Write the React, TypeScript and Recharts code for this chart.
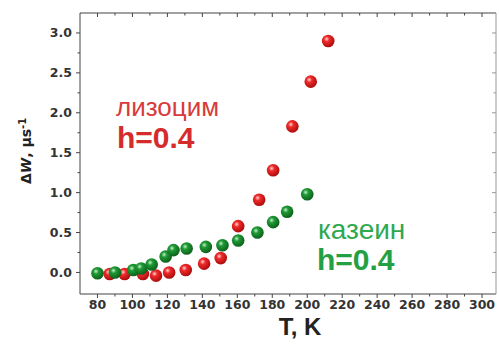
import { ScatterChart, Scatter, XAxis, YAxis } from 'recharts';

// лизоцим (red)
const lysT = [87, 95.5, 106, 113.5, 121, 130.5, 141, 150.5, 160.5, 172.5, 180.5, 191.5, 202, 212];
const lysW = [-0.02, -0.02, -0.02, -0.04, 0.0, 0.03, 0.11, 0.18, 0.58, 0.91, 1.28, 1.83, 2.39, 2.9];
// казеин (green)
const casT = [80, 90, 100.5, 105, 111, 119, 123.5, 131, 142, 151.5, 160.5, 171.5, 180.5, 188.5, 200];
const casW = [-0.01, 0.0, 0.03, 0.05, 0.1, 0.2, 0.28, 0.3, 0.32, 0.34, 0.4, 0.5, 0.63, 0.76, 0.98];

const xTicks = [80, 90, 100, 110, 120, 130, 140, 150, 160, 170, 180, 190, 200, 210, 220, 230, 240, 250, 260, 270, 280, 290, 300];
const yTicks = [0, 0.25, 0.5, 0.75, 1, 1.25, 1.5, 1.75, 2, 2.25, 2.5, 2.75, 3];

const lysData = lysT.map((t, i) => ({ t, w: lysW[i] }));
const casData = casT.map((t, i) => ({ t, w: casW[i] }));

const AXIS = '#444';
const tickFont = { fontFamily: 'DejaVu Sans', fontWeight: 700, fontSize: 12.5, fill: '#333' };

// eslint-disable-next-line @typescript-eslint/no-explicit-any
const XTick = ({ x, y, payload, top }: any) => {
    const major = payload.value % 20 === 0;
    const len = major ? 4 : 2.5;
    return (
        <g>
            <line x1={x} x2={x} y1={y} y2={y + len} stroke={AXIS} strokeWidth={1} />
            {!top && major && (
                <text x={x} y={y + 15} textAnchor="middle" {...tickFont}>
                    {payload.value}
                </text>
            )}
        </g>
    );
};

// eslint-disable-next-line @typescript-eslint/no-explicit-any
const YTick = ({ x, y, payload, right }: any) => {
    const major = Math.abs((payload.value * 2) % 1) < 1e-6;
    const len = major ? 4 : 2.5;
    return (
        <g>
            <line x1={x - len} x2={x} y1={y} y2={y} stroke={right ? '#999' : AXIS} strokeWidth={1} />
            {!right && major && (
                <text x={x - 8} y={y + 4.5} textAnchor="end" {...tickFont}>
                    {payload.value.toFixed(1)}
                </text>
            )}
        </g>
    );
};

// eslint-disable-next-line @typescript-eslint/no-explicit-any
const Ball = (grad: string) => ({ cx, cy }: any) => (
    <circle cx={cx} cy={cy} r={6.3} fill={`url(#${grad})`} />
);

const Hidden = () => null;

export default function App() {
    return (
        <div style={{ position: 'absolute', left: 0, top: 0, width: 499, height: 344, background: '#fff' }}>
            <ScatterChart width={499} height={344} margin={{ top: 12, right: 2, bottom: 0, left: 0 }}>
                <defs>
                    <radialGradient id="gRed" cx="38%" cy="35%" r="70%">
                        <stop offset="0%" stopColor="#ffd6d6" />
                        <stop offset="30%" stopColor="#f02a2a" />
                        <stop offset="100%" stopColor="#a40a0a" />
                    </radialGradient>
                    <radialGradient id="gGreen" cx="38%" cy="35%" r="70%">
                        <stop offset="0%" stopColor="#c8f0d0" />
                        <stop offset="30%" stopColor="#1f9a35" />
                        <stop offset="100%" stopColor="#0b5c18" />
                    </radialGradient>
                </defs>
                <XAxis
                    dataKey="t"
                    type="number"
                    domain={[70, 308]}
                    ticks={xTicks}
                    interval={0}
                    height={50}
                    tickSize={0}
                    tickMargin={0}
                    axisLine={{ stroke: AXIS }}
                    tickLine={false}
                    tick={(p: any) => <XTick {...p} />}
                    allowDataOverflow
                />
                <XAxis
                    xAxisId="top"
                    orientation="top"
                    dataKey="t"
                    type="number"
                    domain={[70, 308]}
                    ticks={xTicks}
                    interval={0}
                    height={1}
                    tickSize={0}
                    tickMargin={0}
                    axisLine={{ stroke: AXIS }}
                    tickLine={false}
                    tick={(p: any) => <XTick {...p} top />}
                    allowDataOverflow
                />
                <YAxis
                    dataKey="w"
                    type="number"
                    domain={[-0.27, 3.25]}
                    ticks={yTicks}
                    interval={0}
                    width={80}
                    tickSize={0}
                    tickMargin={0}
                    axisLine={{ stroke: AXIS }}
                    tickLine={false}
                    tick={(p: any) => <YTick {...p} />}
                    allowDataOverflow
                />
                <YAxis
                    yAxisId="right"
                    orientation="right"
                    dataKey="w"
                    type="number"
                    domain={[-0.27, 3.25]}
                    ticks={yTicks}
                    interval={0}
                    width={1}
                    tickSize={0}
                    tickMargin={0}
                    axisLine={{ stroke: '#999' }}
                    tickLine={false}
                    tick={(p: any) => <YTick {...p} right />}
                    allowDataOverflow
                />
                <Scatter data={casData} xAxisId="top" yAxisId="right" shape={Hidden} isAnimationActive={false} />
                <Scatter data={lysData} shape={Ball('gRed')} isAnimationActive={false} />
                <Scatter data={casData} shape={Ball('gGreen')} isAnimationActive={false} />
            </ScatterChart>
            <svg width={499} height={344} style={{ position: 'absolute', left: 0, top: 0, pointerEvents: 'none' }}>
                <text x={116} y={116} fontFamily="Liberation Sans" fontSize={26} fill="#d93a3c">лизоцим</text>
                <text x={117} y={148} fontFamily="Liberation Sans" fontWeight={700} fontSize={30} fill="#d52b2d">h=0.4</text>
                <text x={318} y={239} fontFamily="Liberation Sans" fontSize={28} fill="#2fa84f">казеин</text>
                <text x={317} y={270} fontFamily="Liberation Sans" fontWeight={700} fontSize={30} fill="#23a043">h=0.4</text>
                <text x={300} y={335} textAnchor="middle" fontFamily="Liberation Sans" fontWeight={700} fontSize={24} fill="#222">T, K</text>
                <text
                    transform="translate(31,151) rotate(-90)"
                    textAnchor="middle"
                    fontFamily="DejaVu Sans"
                    fontWeight={700}
                    fontSize={14}
                    fill="#222"
                >
                    Δ<tspan fontStyle="italic">W</tspan>, μs<tspan dy={-5} fontSize={10}>-1</tspan>
                </text>
            </svg>
        </div>
    );
}
